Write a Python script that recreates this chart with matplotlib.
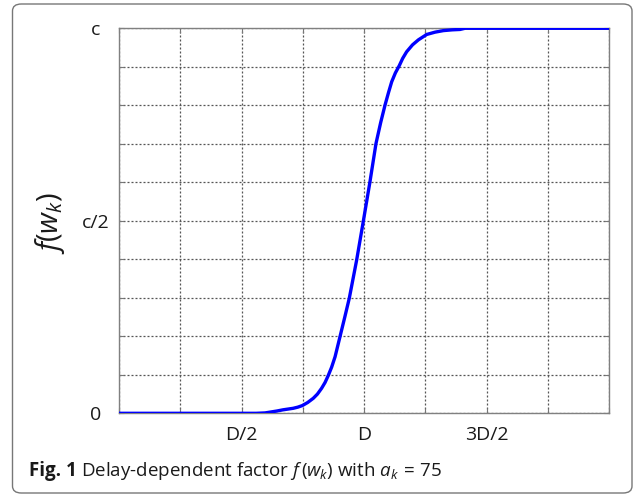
import numpy as np
import matplotlib
matplotlib.use("Agg")
import matplotlib.pyplot as plt
from matplotlib.patches import FancyBboxPatch

# curve: w in units of D, f in units of c
w_vals = [0.0, 0.560, 0.596, 0.616, 0.645, 0.669, 0.690, 0.711, 0.730, 0.748,
          0.770, 0.793, 0.810, 0.827, 0.841, 0.854, 0.868, 0.882, 0.902, 0.922,
          0.940, 0.970, 0.997, 1.024, 1.049, 1.068, 1.086, 1.100, 1.113, 1.128,
          1.144, 1.158, 1.174, 1.198, 1.222, 1.256, 1.290, 1.324, 1.360, 1.392,
          1.412, 2.0]
f_vals = [0.0, 0.0, 0.001, 0.003, 0.006, 0.009, 0.011, 0.013, 0.016, 0.020,
          0.028, 0.039, 0.050, 0.065, 0.080, 0.098, 0.120, 0.147, 0.199, 0.251,
          0.299, 0.398, 0.498, 0.600, 0.701, 0.755, 0.801, 0.833, 0.861, 0.884,
          0.903, 0.922, 0.939, 0.957, 0.970, 0.984, 0.990, 0.994, 0.996, 0.997,
          1.0, 1.0]

x_ticks = [0, 0.25, 0.5, 0.75, 1.0, 1.25, 1.5, 1.75, 2.0]
x_labels = ["", "", "D/2", "", "D", "", "3D/2", "", ""]
y_ticks = [0, 0.1, 0.2, 0.3, 0.4, 0.5, 0.6, 0.7, 0.8, 0.9, 1.0]
y_labels = ["0", "", "", "", "", "c/2", "", "", "", "", "c"]

plt.rcParams['font.family'] = ['Open Sans', 'DejaVu Sans']
plt.rcParams['mathtext.fontset'] = 'custom'
plt.rcParams['mathtext.rm'] = 'Open Sans'
plt.rcParams['mathtext.it'] = 'Open Sans:italic'
plt.rcParams['mathtext.bf'] = 'Open Sans:bold'

W, H = 635, 496
fig = plt.figure(figsize=(W / 100, H / 100), dpi=100)
ax = fig.add_axes([119 / W, (H - 413.3) / H, 490 / W, 385 / H])

ax.plot(w_vals, f_vals, color='#0000ff', lw=2.4, solid_capstyle='butt', zorder=3)

ax.set_xlim(0, 2)
ax.set_ylim(0, 1)
ax.set_xticks(x_ticks)
ax.set_xticklabels(x_labels)
ax.set_yticks(y_ticks)
ax.set_yticklabels(y_labels)
for lab in ax.get_yticklabels():
    lab.set_horizontalalignment('center')

ax.grid(True, color='#555555', linestyle=(0, (1.6, 1.6)), lw=0.9)
ax.tick_params(direction='in', length=3.5, width=0.8, color='#777777',
               top=True, right=True, labelsize=14, labelcolor='#1a1a1a')
ax.tick_params(axis='x', pad=9)
ax.tick_params(axis='y', pad=17)
for sp in ax.spines.values():
    sp.set_color('#808080')
    sp.set_linewidth(1.0)

fig.text(50 / W, 1 - 223 / H, r"$f(w_k)$", rotation=90, ha='center', va='center',
         fontsize=21, color='#1a1a1a')

# caption: bold "Fig. 1" followed by the regular text
cap_y = 1 - 476 / H
t1 = fig.text(29 / W, cap_y, "Fig. 1", weight='bold', ha='left', va='baseline',
              fontsize=13.5, color='#1a1a1a')
fig.canvas.draw()
bb = t1.get_window_extent(renderer=fig.canvas.get_renderer())
fig.text(bb.x1 / W + 4.5 / W, cap_y,
         r"Delay-dependent factor $f\,(w_k)$ with $a_k\,=\,75$",
         ha='left', va='baseline', fontsize=13.5, color='#1a1a1a')

border = FancyBboxPatch((12.5 / W, 3 / H), 619.5 / W, 489 / H,
                        boxstyle="round,pad=0,rounding_size=0.014",
                        transform=fig.transFigure, facecolor='none',
                        edgecolor='#777777', lw=1.0)
fig.patches.append(border)

fig.savefig("out.png", dpi=100)
plt.close(fig)
